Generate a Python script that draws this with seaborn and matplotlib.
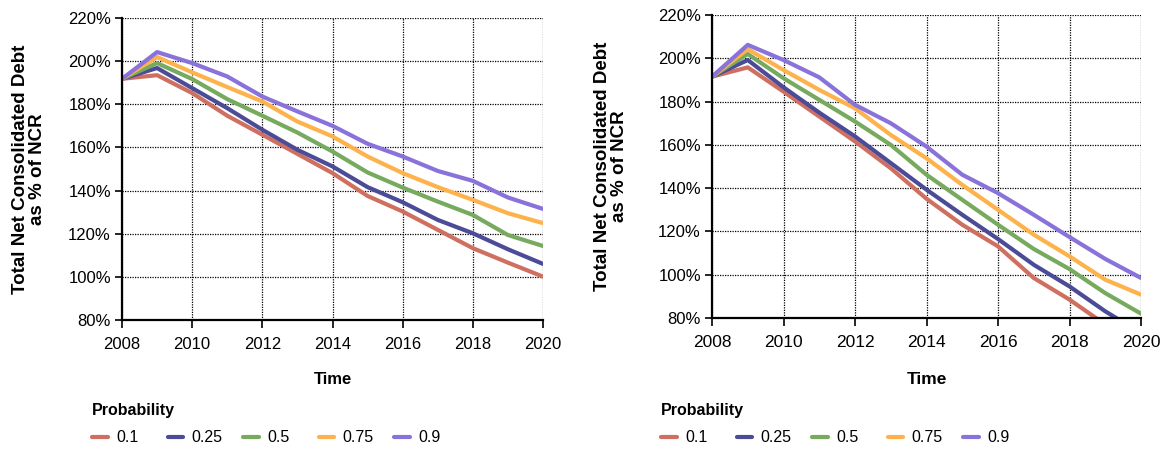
import matplotlib
matplotlib.use("Agg")
import matplotlib.pyplot as plt
from matplotlib.ticker import FuncFormatter
from matplotlib.lines import Line2D
import pandas as pd
import seaborn as sns

years = list(range(2008, 2021))
probabilities = ["0.1", "0.25", "0.5", "0.75", "0.9"]
colors = ["#CF6F60", "#4B4B98", "#77AA5E", "#FDB24C", "#8A72DB"]

# Scenario A: debt ratio (%) by probability level
left_p10 = [191.8, 193.5, 185.2, 174.7, 165.9, 157.0, 148.1, 137.5, 130.3, 121.8, 113.3, 106.6, 100.1]
left_p25 = [191.8, 196.8, 187.5, 178.2, 168.2, 158.9, 151.2, 141.6, 134.6, 126.4, 120.2, 112.8, 106.0]
left_p50 = [191.8, 199.1, 191.7, 182.4, 174.7, 166.9, 158.1, 148.4, 141.4, 134.9, 128.7, 119.4, 114.3]
left_p75 = [191.8, 201.9, 194.8, 188.0, 181.3, 172.0, 165.1, 155.8, 148.1, 141.6, 135.7, 129.5, 124.9]
left_p90 = [191.8, 204.2, 199.1, 192.9, 183.6, 176.7, 170.0, 161.7, 155.8, 149.1, 144.5, 136.8, 131.5]

# Scenario B: debt ratio (%) by probability level
right_p10 = [191.5, 195.8, 184.6, 173.1, 161.6, 149.2, 135.1, 123.1, 113.1, 98.5, 88.5, 77.0, 66.0]
right_p25 = [191.5, 199.2, 186.6, 174.9, 163.9, 151.6, 139.3, 127.7, 116.5, 104.6, 94.6, 83.1, 73.0]
right_p50 = [191.5, 202.0, 190.8, 180.8, 170.8, 160.0, 146.2, 134.6, 123.1, 111.9, 102.6, 91.5, 82.0]
right_p75 = [191.5, 204.2, 194.6, 185.4, 176.9, 164.6, 153.8, 141.5, 130.0, 118.5, 108.5, 97.7, 90.8]
right_p90 = [191.5, 206.2, 199.2, 191.2, 178.5, 170.0, 159.2, 146.2, 137.7, 127.7, 117.4, 107.3, 98.5]

y_ticks = [80, 100, 120, 140, 160, 180, 200, 220]
x_ticks = [2008, 2010, 2012, 2014, 2016, 2018, 2020]


def to_long(series_list):
    frames = []
    for prob, vals in zip(probabilities, series_list):
        frames.append(pd.DataFrame({"Time": years, "Value": vals, "Probability": prob}))
    return pd.concat(frames, ignore_index=True)


left_df = to_long([left_p10, left_p25, left_p50, left_p75, left_p90])
right_df = to_long([right_p10, right_p25, right_p50, right_p75, right_p90])

sns.set_style("white")
plt.rcParams["font.family"] = ["Liberation Sans", "DejaVu Sans"]
plt.rcParams["text.color"] = "black"
plt.rcParams["axes.labelcolor"] = "black"
plt.rcParams["xtick.color"] = "black"
plt.rcParams["ytick.color"] = "black"

W, H = 1165, 449
fig = plt.figure(figsize=(W / 100, H / 100), dpi=100)


def px_axes(x0, y0, x1, y1):
    return fig.add_axes([x0 / W, 1 - y1 / H, (x1 - x0) / W, (y1 - y0) / H])


ax_left = px_axes(122, 18, 543, 320)
ax_right = px_axes(712, 15, 1141, 318)

palette = dict(zip(probabilities, colors))

panels = [
    # axes, data, y-label x (axes coords), legend left (px), x font size, x-label pad
    (ax_left, left_df, -0.180, 92, 12, 15),
    (ax_right, right_df, -0.196, 661, 12.5, 16),
]

for ax, df, label_x, legend_x, xfs, xpad in panels:
    sns.lineplot(data=df, x="Time", y="Value", hue="Probability",
                 hue_order=probabilities, palette=palette, linewidth=3.0,
                 ax=ax, legend=False)
    ax.set_xlim(2008, 2020)
    ax.set_ylim(80, 220)
    ax.set_xticks(x_ticks)
    ax.set_yticks(y_ticks)
    ax.yaxis.set_major_formatter(FuncFormatter(lambda v, p: f"{v:.0f}%"))
    ax.grid(True, color="black", linestyle=(0, (1, 1)), linewidth=0.9)
    ax.set_axisbelow(True)
    for side in ["top", "right"]:
        ax.spines[side].set_visible(False)
    for side in ["left", "bottom"]:
        ax.spines[side].set_color("black")
        ax.spines[side].set_linewidth(1.6)
    ax.tick_params(axis="both", which="both", direction="out", length=5,
                   width=1.2, color="black", labelsize=12, labelcolor="black",
                   left=True, bottom=True)
    ax.tick_params(axis="x", length=6, pad=6, labelsize=xfs)
    ax.tick_params(axis="y", pad=3)
    ax.set_xlabel("Time", fontsize=xfs, fontweight="bold", labelpad=xpad,
                  color="black")
    ax.set_ylabel("Total Net Consolidated Debt\nas % of NCR", fontsize=13.5,
                  fontweight="bold", linespacing=1.0, color="black")
    ax.yaxis.set_label_coords(label_x, 0.5)

    # Legend: bold title, then one evenly spaced entry per probability level
    fig.text(legend_x / W, 1 - 411 / H, "Probability", fontsize=11.5,
             fontweight="bold", ha="left", va="center", color="black")
    for i, (prob, col) in enumerate(zip(probabilities, colors)):
        handle = Line2D([], [], color=col, linewidth=3.0)
        leg = fig.legend([handle], [prob], loc="center left",
                         bbox_to_anchor=((legend_x + i * 75.5) / W, 1 - 438 / H),
                         bbox_transform=fig.transFigure, frameon=False,
                         fontsize=11.5, handlelength=1.0, handletextpad=0.5,
                         borderpad=0, borderaxespad=0)
        for txt in leg.get_texts():
            txt.set_color("black")

fig.savefig("out.png", dpi=100)
